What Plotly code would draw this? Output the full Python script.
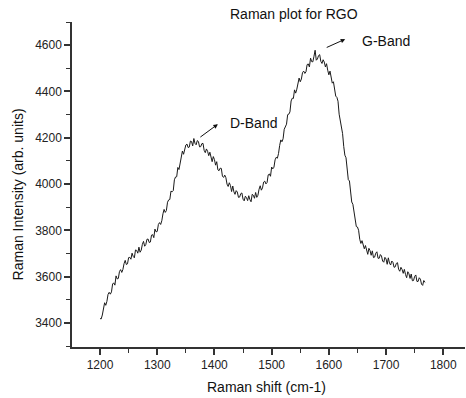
import plotly.graph_objects as go

# Raman shift (cm-1), 2 cm-1 steps from 1200 to 1768
shift_start = 1200
shift_step = 2
intensity = [
    3420, 3418, 3435, 3467, 3488, 3477, 3494, 3524, 3533, 3525,
    3535, 3569, 3574, 3564, 3604, 3591, 3593, 3623, 3631, 3619,
    3632, 3657, 3671, 3653, 3656, 3683, 3684, 3676, 3702, 3688,
    3682, 3716, 3714, 3702, 3728, 3706, 3715, 3740, 3753, 3732,
    3739, 3762, 3763, 3748, 3750, 3780, 3782, 3769, 3806, 3794,
    3796, 3826, 3834, 3826, 3842, 3872, 3891, 3878, 3886, 3922,
    3932, 3934, 3970, 3967, 3972, 4019, 4031, 4032, 4072, 4063,
    4085, 4120, 4143, 4129, 4144, 4169, 4173, 4158, 4160, 4186,
    4184, 4165, 4197, 4176, 4170, 4188, 4184, 4161, 4162, 4175,
    4176, 4146, 4136, 4152, 4142, 4123, 4138, 4113, 4097, 4119,
    4106, 4082, 4097, 4062, 4058, 4069, 4068, 4034, 4029, 4039,
    4028, 4000, 3990, 4006, 3994, 3968, 3992, 3967, 3956, 3972,
    3966, 3943, 3944, 3959, 3962, 3935, 3928, 3948, 3942, 3929,
    3950, 3933, 3924, 3956, 3952, 3939, 3964, 3943, 3952, 3978,
    3993, 3974, 3984, 4009, 4013, 4001, 4007, 4040, 4044, 4034,
    4074, 4066, 4073, 4105, 4116, 4112, 4132, 4167, 4191, 4183,
    4196, 4237, 4252, 4259, 4300, 4302, 4312, 4359, 4371, 4370,
    4407, 4393, 4410, 4440, 4458, 4442, 4454, 4482, 4488, 4478,
    4485, 4516, 4519, 4506, 4544, 4529, 4528, 4552, 4578, 4535,
    4540, 4555, 4559, 4530, 4521, 4537, 4527, 4506, 4520, 4492,
    4472, 4488, 4468, 4436, 4442, 4396, 4380, 4375, 4358, 4302,
    4274, 4257, 4218, 4163, 4125, 4114, 4074, 4019, 4014, 3961,
    3923, 3913, 3881, 3837, 3817, 3815, 3801, 3762, 3744, 3756,
    3742, 3721, 3735, 3712, 3697, 3723, 3713, 3693, 3712, 3683,
    3685, 3702, 3708, 3680, 3680, 3696, 3690, 3668, 3663, 3684,
    3677, 3654, 3682, 3659, 3651, 3668, 3663, 3641, 3643, 3658,
    3661, 3632, 3624, 3641, 3632, 3615, 3632, 3610, 3596, 3622,
    3613, 3593, 3612, 3583, 3584, 3602, 3608, 3580, 3580, 3596,
    3590, 3568, 3563, 3584, 3576,
]
shift = [shift_start + shift_step * i for i in range(len(intensity))]

x_ticks = [1200, 1300, 1400, 1500, 1600, 1700, 1800]
y_ticks = [3400, 3600, 3800, 4000, 4200, 4400, 4600]

FONT = "Liberation Sans, Arial, sans-serif"
AX = "#333333"

fig = go.Figure()
fig.add_trace(go.Scatter(x=shift, y=intensity, mode="lines",
                         line=dict(color="#1a1a1a", width=1), showlegend=False))

axis_common = dict(
    showgrid=False, zeroline=False, showline=True, linecolor=AX, linewidth=1.5,
    ticks="outside", ticklen=6, tickwidth=1.5, tickcolor=AX, mirror=False,
    tickfont=dict(family=FONT, size=12, color="#222222"),
)
fig.update_xaxes(range=[1151, 1838], tickvals=x_ticks,
                 minor=dict(dtick=50, ticks="outside", ticklen=4, tickwidth=1.2, tickcolor=AX,
                            tick0=1150),
                 **axis_common)
fig.update_yaxes(range=[3297, 4700], tickvals=y_ticks,
                 minor=dict(dtick=100, ticks="outside", ticklen=4, tickwidth=1.2, tickcolor=AX,
                            tick0=3300),
                 **axis_common)

ann = []
ann.append(dict(text="Raman plot for RGO", x=0.565, y=1.025, xref="paper", yref="paper",
                showarrow=False, xanchor="center", yanchor="middle",
                font=dict(family=FONT, size=14, color="#111111")))
ann.append(dict(text="Raman shift (cm-1)", x=0.494, y=-0.123, xref="paper", yref="paper",
                showarrow=False, xanchor="center", yanchor="middle",
                font=dict(family=FONT, size=14, color="#111111")))
ann.append(dict(text="Raman Intensity (arb. units)", x=-0.137, y=0.47, xref="paper", yref="paper",
                showarrow=False, xanchor="center", yanchor="middle", textangle=-90,
                font=dict(family=FONT, size=14, color="#111111")))
ann.append(dict(text="D-Band", x=1469, y=4263, xref="x", yref="y", showarrow=False,
                xanchor="center", yanchor="middle",
                font=dict(family=FONT, size=14, color="#111111")))
ann.append(dict(text="G-Band", x=1700, y=4617, xref="x", yref="y", showarrow=False,
                xanchor="center", yanchor="middle",
                font=dict(family=FONT, size=14, color="#111111")))
ann.append(dict(text="", x=1406, y=4259, xref="x", yref="y", showarrow=True,
                ax=-19, ay=14, arrowhead=2, arrowsize=0.9, arrowwidth=1, arrowcolor="#111111"))
ann.append(dict(text="", x=1628.6, y=4626, xref="x", yref="y", showarrow=True,
                ax=-20, ay=9, arrowhead=2, arrowsize=0.9, arrowwidth=1, arrowcolor="#111111"))

fig.update_layout(
    width=466, height=398,
    margin=dict(l=72, r=1, t=22, b=51),
    paper_bgcolor="white", plot_bgcolor="white",
    annotations=ann,
)
fig.write_html("out.html")
